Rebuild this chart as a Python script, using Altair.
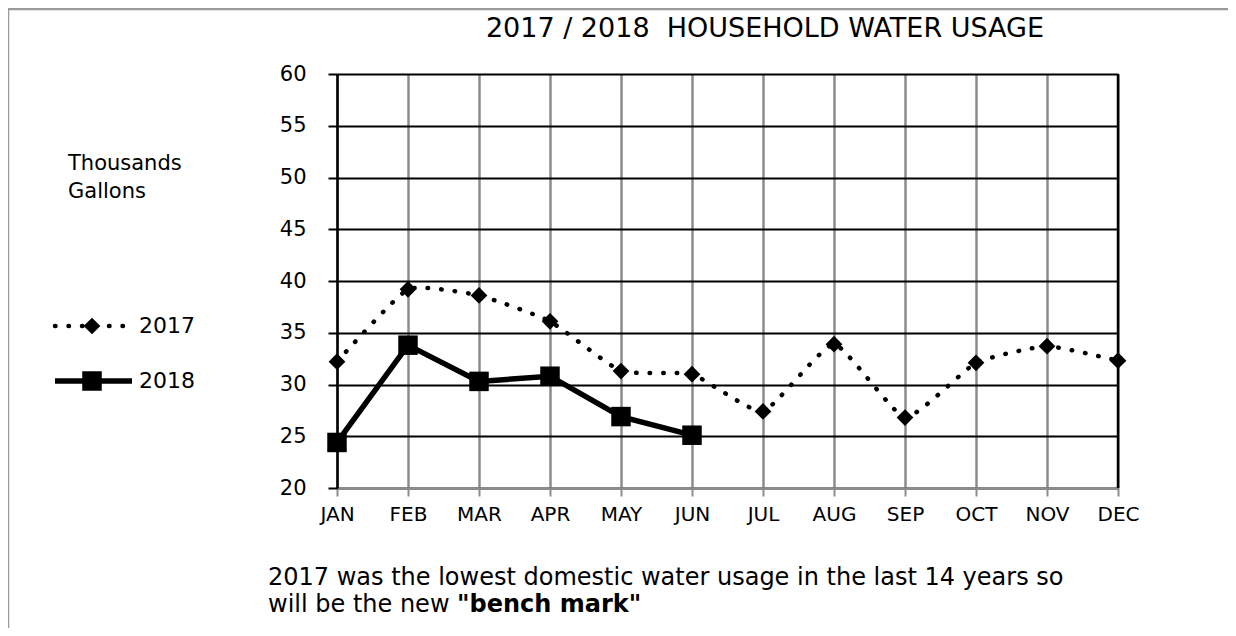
import altair as alt
import pandas as pd

# ---------------- data ----------------
months = ["JAN", "FEB", "MAR", "APR", "MAY", "JUN", "JUL", "AUG", "SEP", "OCT", "NOV", "DEC"]
usage_2017 = [32.2, 39.2, 38.6, 36.1, 31.3, 31.0, 27.4, 33.9, 26.8, 32.1, 33.7, 32.3]
usage_2018 = [24.4, 33.8, 30.3, 30.8, 26.9, 25.1]
y_ticks = [20, 25, 30, 35, 40, 45, 50, 55, 60]
series_names = ["2017", "2018"]
title_text = "2017 / 2018 \u00a0HOUSEHOLD WATER USAGE"
unit_text = "Thousands\nGallons"
note_line1 = "2017 was the lowest domestic water usage in the last 14 years so"
note_line2_plain = "will be the new "
note_line2_bold = '"bench mark"'

df17 = pd.DataFrame({"month": months, "usage": usage_2017, "year": series_names[0]})
df18 = pd.DataFrame({"month": months[:len(usage_2018)], "usage": usage_2018, "year": series_names[1]})

W, H = 781, 414
FONT = "DejaVu Sans"
GRAY = "#8c8c8c"

x_enc = alt.X(
    "month:N", sort=months,
    scale=alt.Scale(type="point", domain=months, padding=0),
    axis=alt.Axis(title=None, labelAngle=0, grid=True, gridColor=GRAY, gridWidth=2.5,
                  domainColor=GRAY, domainWidth=2.5, tickColor=GRAY, tickWidth=2, tickSize=8,
                  labelFont=FONT, labelFontSize=20, labelColor="black", labelPadding=8),
)
y_enc = alt.Y(
    "usage:Q",
    scale=alt.Scale(domain=[20, 60], nice=False, zero=False),
    axis=alt.Axis(title=None, values=y_ticks, grid=True, gridColor="black", gridWidth=2,
                  domainColor="black", domainWidth=2.5, tickColor="black", tickWidth=2, tickSize=9,
                  labelFont=FONT, labelFontSize=21, labelColor="black", labelPadding=22),
)

DOT = dict(strokeDash=[0.5, 13], strokeCap="round", strokeWidth=4.5, color="black")

line17 = alt.Chart(df17).mark_line(interpolate="cardinal", tension=0.55, **DOT).encode(x=x_enc, y=y_enc)
pts17 = alt.Chart(df17).mark_point(shape="diamond", filled=True, size=280, color="black", opacity=1).encode(
    x=alt.X("month:N", sort=months), y="usage:Q")
line18 = alt.Chart(df18).mark_line(strokeWidth=5.5, color="black").encode(
    x=alt.X("month:N", sort=months), y="usage:Q")
pts18 = alt.Chart(df18).mark_square(size=380, color="black", opacity=1).encode(
    x=alt.X("month:N", sort=months), y="usage:Q")

# right frame edge at the last month
right_edge = alt.Chart(pd.DataFrame({"m": [months[-1]]})).mark_rule(color="black", strokeWidth=2.5).encode(
    x=alt.X("m:N", sort=months), y=alt.value(0), y2=alt.value(H))

# outer border (only top & left visible)
border = alt.Chart(pd.DataFrame({"a": [0]})).mark_rect(filled=False, stroke="#9a9a9a", strokeWidth=2.5).encode(
    x=alt.value(-329), y=alt.value(-65), x2=alt.value(W + 300), y2=alt.value(H + 300))

title = alt.Chart(pd.DataFrame({"t": [title_text]})).mark_text(
    font=FONT, fontSize=27, align="center", baseline="alphabetic", color="black").encode(
    x=alt.value(428), y=alt.value(-37), text="t:N")

unit = alt.Chart(pd.DataFrame({"t": [unit_text]})).mark_text(
    font=FONT, fontSize=21, align="left", baseline="alphabetic", lineBreak="\n", lineHeight=28,
    color="black").encode(x=alt.value(-269), y=alt.value(96), text="t:N")

NOTE_FS = 24
note1 = alt.Chart(pd.DataFrame({"t": [note_line1]})).mark_text(
    font=FONT, fontSize=NOTE_FS, align="left", baseline="alphabetic", color="black").encode(
    x=alt.value(-69), y=alt.value(511), text="t:N")
note2a = alt.Chart(pd.DataFrame({"t": [note_line2_plain]})).mark_text(
    font=FONT, fontSize=NOTE_FS, align="left", baseline="alphabetic", color="black").encode(
    x=alt.value(-69), y=alt.value(538), text="t:N")
note2b = alt.Chart(pd.DataFrame({"t": [note_line2_bold]})).mark_text(
    font=FONT, fontSize=NOTE_FS, fontWeight="bold", align="left", baseline="alphabetic", color="black").encode(
    x=alt.value(120), y=alt.value(538), text="t:N")

# legend (drawn manually at the left)
leg17 = pd.DataFrame({"year": [series_names[0]]})
leg18 = pd.DataFrame({"year": [series_names[1]]})
LY17, LY18 = 252, 307
leg_line17 = alt.Chart(leg17).mark_rule(**DOT).encode(x=alt.value(-282), x2=alt.value(-207), y=alt.value(LY17))
leg_pt17 = alt.Chart(leg17).mark_point(shape="diamond", filled=True, size=280, color="black", opacity=1).encode(
    x=alt.value(-245), y=alt.value(LY17))
leg_txt17 = alt.Chart(leg17).mark_text(font=FONT, fontSize=22, align="left", baseline="middle", color="black").encode(
    x=alt.value(-198), y=alt.value(LY17), text="year:N")
leg_line18 = alt.Chart(leg18).mark_rule(strokeWidth=5.5, color="black").encode(
    x=alt.value(-282), x2=alt.value(-205), y=alt.value(LY18))
leg_pt18 = alt.Chart(leg18).mark_square(size=380, color="black", opacity=1).encode(
    x=alt.value(-245), y=alt.value(LY18))
leg_txt18 = alt.Chart(leg18).mark_text(font=FONT, fontSize=22, align="left", baseline="middle", color="black").encode(
    x=alt.value(-198), y=alt.value(LY18), text="year:N")

chart = alt.layer(
    border, line17, right_edge, pts17, line18, pts18, title, unit, note1, note2a, note2b,
    leg_line17, leg_pt17, leg_txt17, leg_line18, leg_pt18, leg_txt18,
).properties(
    width=W, height=H,
    autosize=alt.AutoSizeParams(type="none"),
    padding={"left": 329, "top": 66, "right": 110, "bottom": 140},
    background="white",
).configure_view(stroke=None)

chart.save("out.html", embed_options={"renderer": "svg", "actions": False})
